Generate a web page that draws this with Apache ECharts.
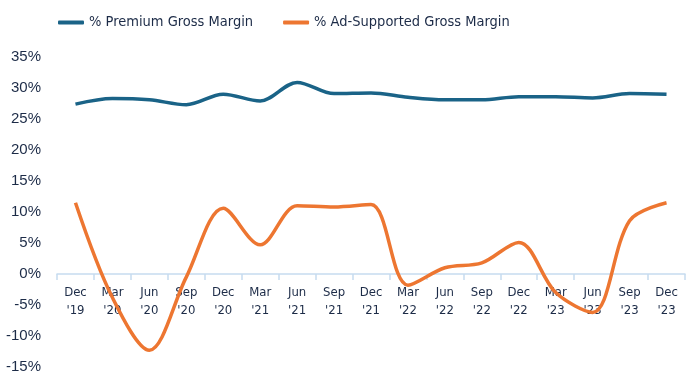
<!DOCTYPE html>
<html><head><meta charset="utf-8">
<script src="https://cdn.jsdelivr.net/npm/echarts@6/dist/echarts.min.js"></script>
<style>html,body{margin:0;padding:0;background:#fff}#c{width:688px;height:373px}</style>
</head><body><div id="c"></div>
<script>
var categories = ["Dec\n'19","Mar\n'20","Jun\n'20","Sep\n'20","Dec\n'20","Mar\n'21","Jun\n'21","Sep\n'21","Dec\n'21","Mar\n'22","Jun\n'22","Sep\n'22","Dec\n'22","Mar\n'23","Jun\n'23","Sep\n'23","Dec\n'23"];
var premium = [27.4,28.3,28.1,27.3,29.0,27.9,30.9,29.1,29.2,28.5,28.1,28.1,28.6,28.6,28.4,29.1,29.0];
var adSupported = [11.5,-3.8,-12.3,-0.5,10.6,4.7,11.0,10.8,11.2,-1.8,1.0,1.8,5.1,-3.0,-6.2,8.6,11.5];
var seriesNames = ["% Premium Gross Margin","% Ad-Supported Gross Margin"];
var yMin = -15, yMax = 35, yStep = 5;
var textColor = "#1c2b47";
var axisColor = '#c6dbf0';
var chart = echarts.init(document.getElementById('c'));
var plotTop = 57, plotBottom = 367;
var zeroY = plotTop + (plotBottom - plotTop) * yMax / (yMax - yMin);
chart.setOption({
  animation:false,
  color:["#1a6387","#ed7631"],
  legend:{top:10,left:53,itemWidth:26,itemHeight:4,itemGap:30,icon:'roundRect',
    textStyle:{fontFamily:"'DejaVu Sans Condensed', sans-serif",fontSize:14.5,color:textColor},
    data:seriesNames},
  grid:[
    {left:57,right:3,top:plotTop,bottom:373-plotBottom,containLabel:false,outerBoundsMode:'none'},
    {left:57,right:3,top:plotTop,bottom:373-zeroY,containLabel:false,outerBoundsMode:'none'}
  ],
  xAxis:[
    {type:'category',gridIndex:0,data:categories,boundaryGap:true,
      axisLine:{show:false},axisTick:{show:false},axisLabel:{show:false}},
    {type:'category',gridIndex:1,data:categories,boundaryGap:true,
      axisLine:{onZero:false,lineStyle:{color:axisColor,width:1.5}},
      axisTick:{show:true,length:6,lineStyle:{color:axisColor,width:1.5}},
      axisLabel:{interval:0,margin:10,lineHeight:18,fontFamily:"'DejaVu Sans Condensed', sans-serif",fontSize:13,color:textColor}}
  ],
  yAxis:[
    {type:'value',gridIndex:0,min:yMin,max:yMax,interval:yStep,
      splitLine:{show:false},axisLine:{show:false},axisTick:{show:false},
      axisLabel:{margin:16,fontFamily:"'Liberation Sans', Arial, sans-serif",fontSize:15,color:textColor,formatter:function(v){return v+'%';}}},
    {type:'value',gridIndex:1,show:false}
  ],
  series:[
    {name:seriesNames[0],type:'line',xAxisIndex:0,yAxisIndex:0,data:premium,smooth:0.33,symbol:'none',lineStyle:{width:3.5}},
    {name:seriesNames[1],type:'line',xAxisIndex:0,yAxisIndex:0,data:adSupported,smooth:0.33,symbol:'none',lineStyle:{width:3.5}}
  ]
});
</script></body></html>
